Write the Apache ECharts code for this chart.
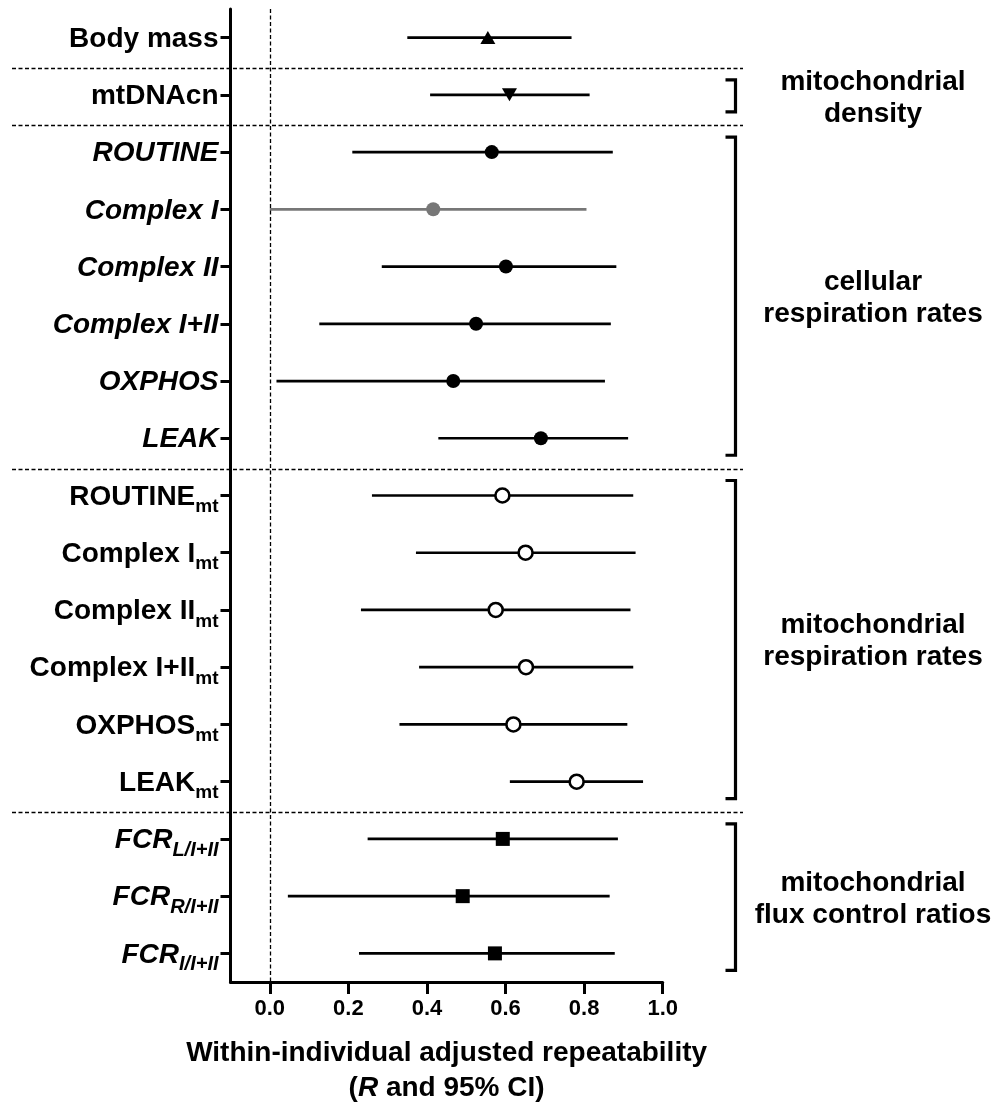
<!DOCTYPE html>
<html>
<head>
<meta charset="utf-8">
<script src="https://cdn.jsdelivr.net/npm/echarts@6/dist/echarts.min.js"></script>
<style>
  html, body { margin: 0; padding: 0; background: #fff; }
  #main { width: 996px; height: 1104px; }
</style>
</head>
<body>
<div id="main"></div>
<script>
// rows, top to bottom
const labelMain = ['Body mass', 'mtDNAcn', 'ROUTINE', 'Complex I', 'Complex II', 'Complex I+II', 'OXPHOS', 'LEAK',
  'ROUTINE', 'Complex I', 'Complex II', 'Complex I+II', 'OXPHOS', 'LEAK', 'FCR', 'FCR', 'FCR'];
const labelSub = ['', '', '', '', '', '', '', '', 'mt', 'mt', 'mt', 'mt', 'mt', 'mt', 'L/I+II', 'R/I+II', 'I/I+II'];
const rowGroup = ['mass', 'density', 'cell', 'cell', 'cell', 'cell', 'cell', 'cell',
  'mt', 'mt', 'mt', 'mt', 'mt', 'mt', 'fcr', 'fcr', 'fcr'];

// R and 95% CI
const estimate = [0.555, 0.610, 0.565, 0.416, 0.601, 0.525, 0.467, 0.690, 0.592, 0.651, 0.575, 0.652, 0.620, 0.781, 0.593, 0.491, 0.573];
const lower = [0.350, 0.408, 0.210, 0.000, 0.285, 0.126, 0.017, 0.429, 0.260, 0.372, 0.232, 0.380, 0.330, 0.611, 0.249, 0.046, 0.227];
const upper = [0.768, 0.814, 0.873, 0.806, 0.882, 0.868, 0.853, 0.912, 0.925, 0.931, 0.918, 0.925, 0.910, 0.950, 0.886, 0.865, 0.878];

const xTicks = [0, 0.2, 0.4, 0.6, 0.8, 1.0];

// brackets on the right
const groupLabels = ['mitochondrial\ndensity', 'cellular\nrespiration rates', 'mitochondrial\nrespiration rates', 'mitochondrial\nflux control ratios'];
const groupFirstRow = [1, 2, 8, 14];
const groupLastRow = [1, 7, 13, 16];

// dashed separators fall after these rows
const separatorAfter = [0, 1, 7, 13];

const FONT = '"Liberation Sans", Arial, Helvetica, sans-serif';
const italicGroups = ['cell', 'fcr'];
const categories = labelMain.map((m, i) => m + labelSub[i]);

function markerFor(i) {
  const g = rowGroup[i];
  const grey = lower[i] <= 0;
  const fill = grey ? '#777777' : '#000000';
  if (g === 'mass') return { symbol: 'triangle', symbolSize: [15, 13], itemStyle: { color: fill, opacity: 1 } };
  if (g === 'density') return { symbol: 'triangle', symbolSize: [15, 13], symbolRotate: 180, itemStyle: { color: fill, opacity: 1 } };
  if (g === 'cell') return { symbol: 'circle', symbolSize: 14, itemStyle: { color: fill, opacity: 1 } };
  if (g === 'mt') return { symbol: 'circle', symbolSize: 14, itemStyle: { color: '#fff', borderColor: fill, borderWidth: 2.6, opacity: 1 } };
  return { symbol: 'rect', symbolSize: 14, itemStyle: { color: fill, opacity: 1 } };
}

const chart = echarts.init(document.getElementById('main'), null, { renderer: 'canvas' });

const option = {
  animation: false,
  backgroundColor: '#fff',
  textStyle: { fontFamily: FONT },
  grid: { left: 230.5, width: 432.2, top: 9, bottom: 122, containLabel: false, outerBoundsMode: 'none' },
  xAxis: {
    type: 'value',
    min: -0.1,
    max: 1.0,
    splitLine: { show: false },
    axisLine: { show: true, onZero: false, lineStyle: { color: '#000', width: 3 } },
    axisTick: { show: true, customValues: xTicks, length: 12, lineStyle: { color: '#000', width: 3 } },
    axisLabel: {
      customValues: xTicks,
      formatter: v => v.toFixed(1),
      margin: 16,
      color: '#000',
      fontSize: 22,
      lineHeight: 22,
      fontWeight: 'bold',
      fontFamily: FONT
    },
    name: 'Within-individual adjusted repeatability\n({i|R} and 95% CI)',
    nameLocation: 'middle',
    nameGap: 54,
    nameTextStyle: {
      color: '#000',
      fontSize: 28,
      fontWeight: 'bold',
      lineHeight: 35,
      fontFamily: FONT,
      rich: {
        i: { fontSize: 28, fontWeight: 'bold', fontStyle: 'italic', lineHeight: 35, fontFamily: FONT, color: '#000' }
      }
    }
  },
  yAxis: {
    type: 'category',
    inverse: true,
    data: categories,
    boundaryGap: true,
    axisLine: { show: true, onZero: false, lineStyle: { color: '#000', width: 3 } },
    axisTick: { show: true, alignWithLabel: true, length: 10, lineStyle: { color: '#000', width: 3 } },
    splitLine: { show: false },
    axisLabel: {
      margin: 12,
      interval: 0,
      color: '#000',
      formatter: (value, index) => {
        const it = italicGroups.includes(rowGroup[index]);
        let s = '{' + (it ? 'mi' : 'm') + '|' + labelMain[index] + '}';
        if (labelSub[index]) s += '{' + (it ? 'si' : 's') + '|' + labelSub[index] + '}';
        return s;
      },
      rich: {
        m: { fontSize: 28, fontWeight: 'bold', lineHeight: 30, padding: [3, 0, 0, 0], fontFamily: FONT, color: '#000' },
        mi: { fontSize: 28, fontWeight: 'bold', fontStyle: 'italic', lineHeight: 30, padding: [3, 0, 0, 0], fontFamily: FONT, color: '#000' },
        s: { fontSize: 19, fontWeight: 'bold', lineHeight: 19, padding: [23, 0, 0, 0], fontFamily: FONT, color: '#000' },
        si: { fontSize: 20, fontWeight: 'bold', fontStyle: 'italic', lineHeight: 20, padding: [23, 0, 0, 0], fontFamily: FONT, color: '#000' }
      }
    }
  },
  series: [
    {
      // 95% CI whiskers: [lower, row, upper]
      type: 'custom',
      z: 2,
      dimensions: ['lo', 'row', 'hi'],
      data: categories.map((c, i) => [lower[i], i, upper[i]]),
      encode: { x: [0, 2], y: 1 },
      renderItem: (params, api) => {
        const i = params.dataIndex;
        const a = api.coord([api.value(0), api.value(1)]);
        const b = api.coord([api.value(2), api.value(1)]);
        return {
          type: 'line',
          shape: { x1: a[0], y1: a[1], x2: b[0], y2: b[1] },
          style: { stroke: lower[i] <= 0 ? '#777777' : '#000000', lineWidth: 2.7 }
        };
      }
    },
    {
      // point estimates
      type: 'scatter',
      z: 3,
      itemStyle: { opacity: 1 },
      data: categories.map((c, i) => Object.assign({ value: [estimate[i], i] }, markerFor(i))),
      markLine: {
        silent: true,
        symbol: 'none',
        label: { show: false },
        lineStyle: { color: '#000', width: 1.3, type: [4, 2.5], opacity: 1 },
        data: [{ xAxis: 0 }]
      }
    }
  ]
};

chart.setOption(option);

// separators, brackets and group titles
const rowY = i => chart.convertToPixel({ yAxisIndex: 0 }, i);
const step = rowY(1) - rowY(0);
const graphics = [];

separatorAfter.forEach(r => {
  const y = Math.round(rowY(r) + step / 2 + 2) + 0.5;
  graphics.push({
    type: 'line',
    silent: true,
    shape: { x1: 12, y1: y, x2: 743, y2: y },
    style: { stroke: '#000', lineWidth: 1.3, lineDash: [4, 2.5] },
    z: 1
  });
});

const bx = 735.5;
groupLabels.forEach((label, g) => {
  const top = rowY(groupFirstRow[g]) - 15;
  const bottom = rowY(groupLastRow[g]) + 17;
  graphics.push({
    type: 'polyline',
    silent: true,
    shape: { points: [[bx - 10, top], [bx, top], [bx, bottom], [bx - 10, bottom]] },
    style: { stroke: '#000', lineWidth: 3.2, fill: null, lineJoin: 'miter' }
  });
  graphics.push({
    type: 'text',
    silent: true,
    x: 873,
    y: (rowY(groupFirstRow[g]) + rowY(groupLastRow[g])) / 2 + 3,
    style: {
      text: label,
      fontSize: 28,
      fontWeight: 'bold',
      fontFamily: FONT,
      lineHeight: 32,
      align: 'center',
      verticalAlign: 'middle',
      fill: '#000'
    }
  });
});

chart.setOption({ graphic: graphics });
</script>
</body>
</html>
